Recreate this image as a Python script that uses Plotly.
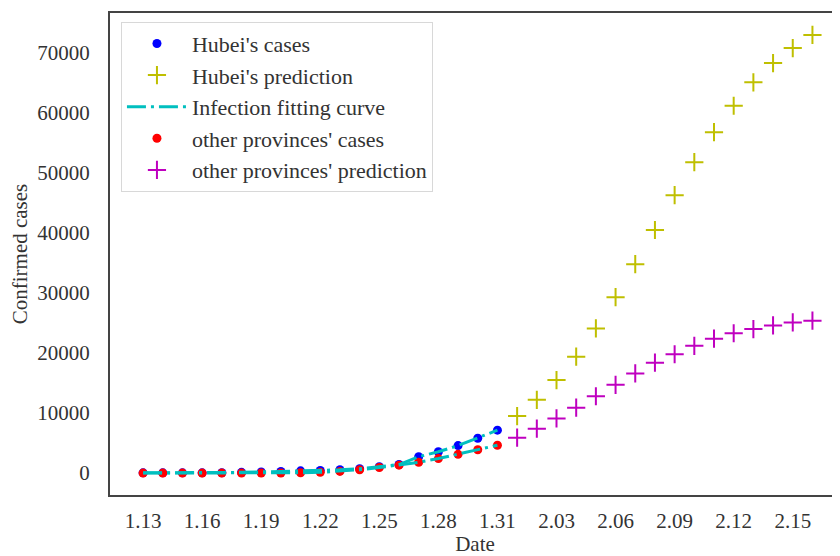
import plotly.graph_objects as go

# ---- data ----
dates_obs = ["1.13", "1.14", "1.15", "1.16", "1.17", "1.18", "1.19", "1.20", "1.21", "1.22",
             "1.23", "1.24", "1.25", "1.26", "1.27", "1.28", "1.29", "1.30", "1.31"]
dates_pred = ["2.01", "2.02", "2.03", "2.04", "2.05", "2.06", "2.07", "2.08", "2.09", "2.10",
              "2.11", "2.12", "2.13", "2.14", "2.15", "2.16"]
tick_labels = ["1.13", "1.16", "1.19", "1.22", "1.25", "1.28", "1.31",
               "2.03", "2.06", "2.09", "2.12", "2.15"]
y_ticks = [0, 10000, 20000, 30000, 40000, 50000, 60000, 70000]

hubei_cases = [41, 41, 41, 45, 62, 121, 198, 270, 375, 444,
               549, 729, 1052, 1423, 2714, 3554, 4586, 5806, 7153]
hubei_fit = [41, 41, 41, 45, 62, 121, 198, 270, 375, 444,
             549, 729, 1052, 1423, 2714, 3554, 4586, 5806, 7153]
hubei_pred = [9500, 12200, 15500, 19400, 24100, 29300, 34800, 40500,
              46300, 51800, 56800, 61200, 65100, 68300, 70800, 73000]

other_cases = [0, 0, 0, 0, 0, 0, 3, 21, 65, 127,
               281, 558, 923, 1321, 1801, 2420, 3125, 3886, 4638]
other_fit = [0, 0, 0, 0, 0, 0, 3, 21, 65, 127,
             281, 558, 923, 1321, 1801, 2420, 3125, 3886, 4638]
other_pred = [5900, 7400, 9100, 10900, 12800, 14700, 16600, 18400,
              19800, 21200, 22400, 23300, 24000, 24600, 25100, 25400]

all_dates = dates_obs + dates_pred

FONT = "Liberation Serif, Times New Roman, serif"
BLUE = "#0000ff"
YEL = "#bfbf00"
CYAN = "#00bfbf"
RED = "#ff0000"
MAG = "#bf00bf"
DASH = "19px,5px,3px,5px"

fig = go.Figure()

fig.add_trace(go.Scatter(x=dates_obs, y=hubei_cases, mode="markers", name="Hubei's cases",
                         marker=dict(color=BLUE, size=9), legendrank=1))
fig.add_trace(go.Scatter(x=dates_pred, y=hubei_pred, mode="markers", name="Hubei's prediction",
                         marker=dict(symbol="cross-thin", size=13, color=YEL,
                                     line=dict(color=YEL, width=2)), legendrank=2))
fig.add_trace(go.Scatter(x=dates_obs, y=other_cases, mode="markers", name="other provinces' cases",
                         marker=dict(color=RED, size=9), legendrank=4))
fig.add_trace(go.Scatter(x=dates_pred, y=other_pred, mode="markers", name="other provinces' prediction",
                         marker=dict(symbol="cross-thin", size=13, color=MAG,
                                     line=dict(color=MAG, width=2)), legendrank=5))
fig.add_trace(go.Scatter(x=dates_obs, y=hubei_fit, mode="lines", name="Infection fitting curve",
                         line=dict(color=CYAN, width=3, dash=DASH), legendrank=3))
fig.add_trace(go.Scatter(x=dates_obs, y=other_fit, mode="lines", name="Infection fitting curve",
                         line=dict(color=CYAN, width=3, dash=DASH), showlegend=False))

# the page body adds an 8px margin, so the figure is 8px smaller and shifted
fig.update_layout(
    width=832, height=548,
    margin=dict(l=102, r=0, t=5, b=61),
    paper_bgcolor="white", plot_bgcolor="white",
    font=dict(family=FONT, size=21, color="#333333"),
    showlegend=True,
    legend=dict(x=0.015, y=0.982, xanchor="left", yanchor="top",
                bgcolor="rgba(255,255,255,0.8)", bordercolor="#d8d8d8", borderwidth=1,
                font=dict(family=FONT, size=22, color="#333333"),
                itemwidth=60, tracegroupgap=0),
    xaxis=dict(type="category", categoryorder="array", categoryarray=all_dates,
               range=[-1.68, 35.4], tickmode="array", tickvals=tick_labels, ticktext=tick_labels,
               showgrid=False, zeroline=False, showline=True, linecolor="#444444", linewidth=2,
               mirror=True, ticks="", ticklabelstandoff=6, automargin=False,
               title=dict(text="Date", font=dict(family=FONT, size=21, color="#333333"), standoff=0)),
    yaxis=dict(range=[-3650, 76650], tickmode="array", tickvals=y_ticks,
               showgrid=False, zeroline=False, showline=True, linecolor="#444444", linewidth=2,
               ticks="", ticklabelstandoff=14, tickformat="d", automargin=False,
               title=dict(text="Confirmed cases", font=dict(family=FONT, size=21, color="#333333"),
                          standoff=8)),
)

fig.write_html("out.html")
